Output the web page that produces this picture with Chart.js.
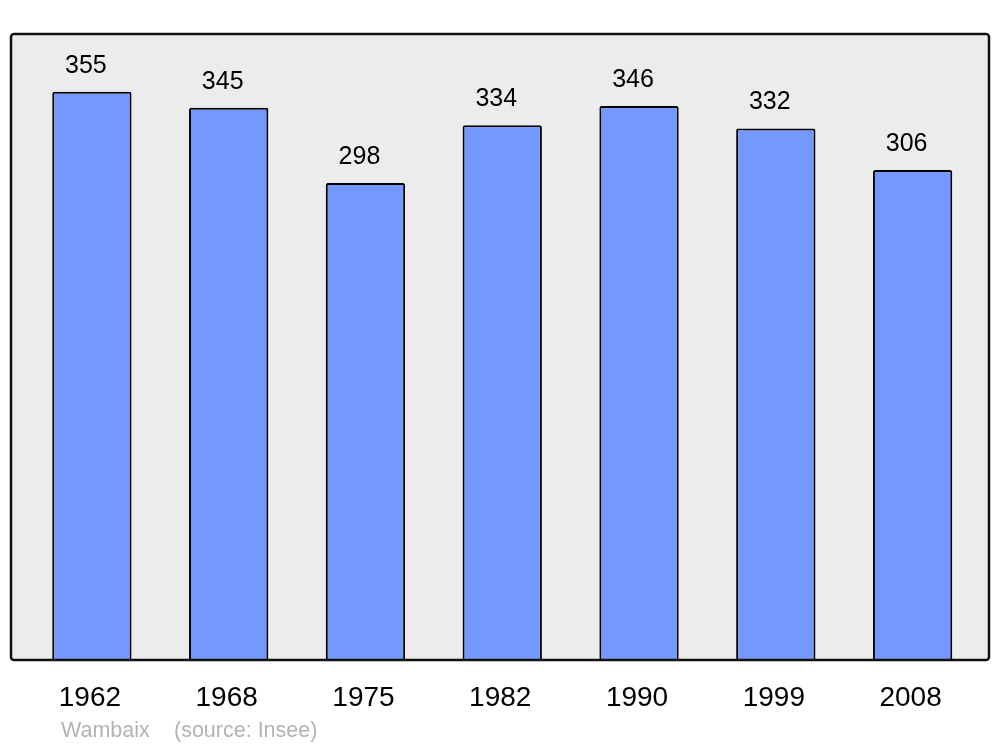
<!DOCTYPE html>
<html>
<head>
<meta charset="utf-8">
<title>Wambaix</title>
<script src="https://cdn.jsdelivr.net/npm/chart.js@4"></script>
<style>
  html, body { margin: 0; padding: 0; background: #fff; }
  #wrap { width: 1000px; height: 747px; position: relative; }
</style>
</head>
<body>
<div id="wrap"><canvas id="pop-chart"></canvas></div>
<script>
  "use strict";

  // data
  var years = ["1962", "1968", "1975", "1982", "1990", "1999", "2008"];
  var population = [355, 345, 298, 334, 346, 332, 306];
  var yMax = 391;

  var town = "Wambaix";
  var source = "(source: Insee)";

  // frame + background behind the bars
  var framePlugin = {
    id: "frame",
    beforeDatasetsDraw: function (chart) {
      var ctx = chart.ctx;
      var a = chart.chartArea;
      var x0 = a.left - 12.5, x1 = a.right + 8, y0 = a.top, y1 = a.bottom;
      ctx.save();
      ctx.beginPath();
      ctx.roundRect(x0, y0, x1 - x0, y1 - y0, 3);
      ctx.fillStyle = "#ececec";
      ctx.fill();
      ctx.restore();
    },
    afterDatasetsDraw: function (chart) {
      var ctx = chart.ctx;
      var a = chart.chartArea;
      var x0 = a.left - 12.5, x1 = a.right + 8, y0 = a.top, y1 = a.bottom;
      ctx.save();
      ctx.beginPath();
      ctx.roundRect(x0, y0, x1 - x0, y1 - y0, 3);
      ctx.lineWidth = 2.5;
      ctx.strokeStyle = "#111";
      ctx.stroke();
      ctx.restore();
    }
  };

  // value labels, year labels and footer
  var labelsPlugin = {
    id: "labels",
    afterDraw: function (chart) {
      var ctx = chart.ctx;
      var meta = chart.getDatasetMeta(0);
      var xs = chart.scales.x;
      ctx.save();
      ctx.textAlign = "center";
      ctx.textBaseline = "alphabetic";
      ctx.fillStyle = "#000";
      ctx.font = "25px 'Liberation Sans', Arial, sans-serif";
      meta.data.forEach(function (bar, i) {
        ctx.fillText(String(population[i]), bar.x - 6, bar.y - 19);
      });
      ctx.font = "28px 'Liberation Sans', Arial, sans-serif";
      years.forEach(function (y, i) {
        ctx.fillText(y, xs.getPixelForValue(i) - 2, chart.chartArea.bottom + 46);
      });
      ctx.textAlign = "left";
      ctx.fillStyle = "#b3b3b3";
      ctx.font = "21.5px 'Liberation Sans', Arial, sans-serif";
      ctx.fillText(town, 61, 737);
      ctx.fillText(source, 174, 737);
      ctx.restore();
    }
  };

  var ctx = document.getElementById("pop-chart").getContext("2d");
  var popChart = new Chart(ctx, {
    type: "bar",
    data: {
      labels: years,
      datasets: [
        {
          data: population,
          backgroundColor: "#7399ff",
          borderColor: "#000",
          borderWidth: 2,
          borderSkipped: "bottom",
          borderRadius: { topLeft: 2, topRight: 2, bottomLeft: 0, bottomRight: 0 },
          categoryPercentage: 1,
          barPercentage: 0.58,
        },
      ],
    },
    options: {
      responsive: true,
      maintainAspectRatio: false,
      animation: false,
      events: [],
      layout: { padding: { left: 23.5, right: 19, top: 34, bottom: 87 } },
      plugins: {
        legend: { display: false },
        tooltip: { enabled: false },
        title: { display: false },
      },
      scales: {
        x: { display: false, offset: true },
        y: { display: false, min: 0, max: yMax },
      },
    },
    plugins: [framePlugin, labelsPlugin],
  });
</script>
</body>
</html>
